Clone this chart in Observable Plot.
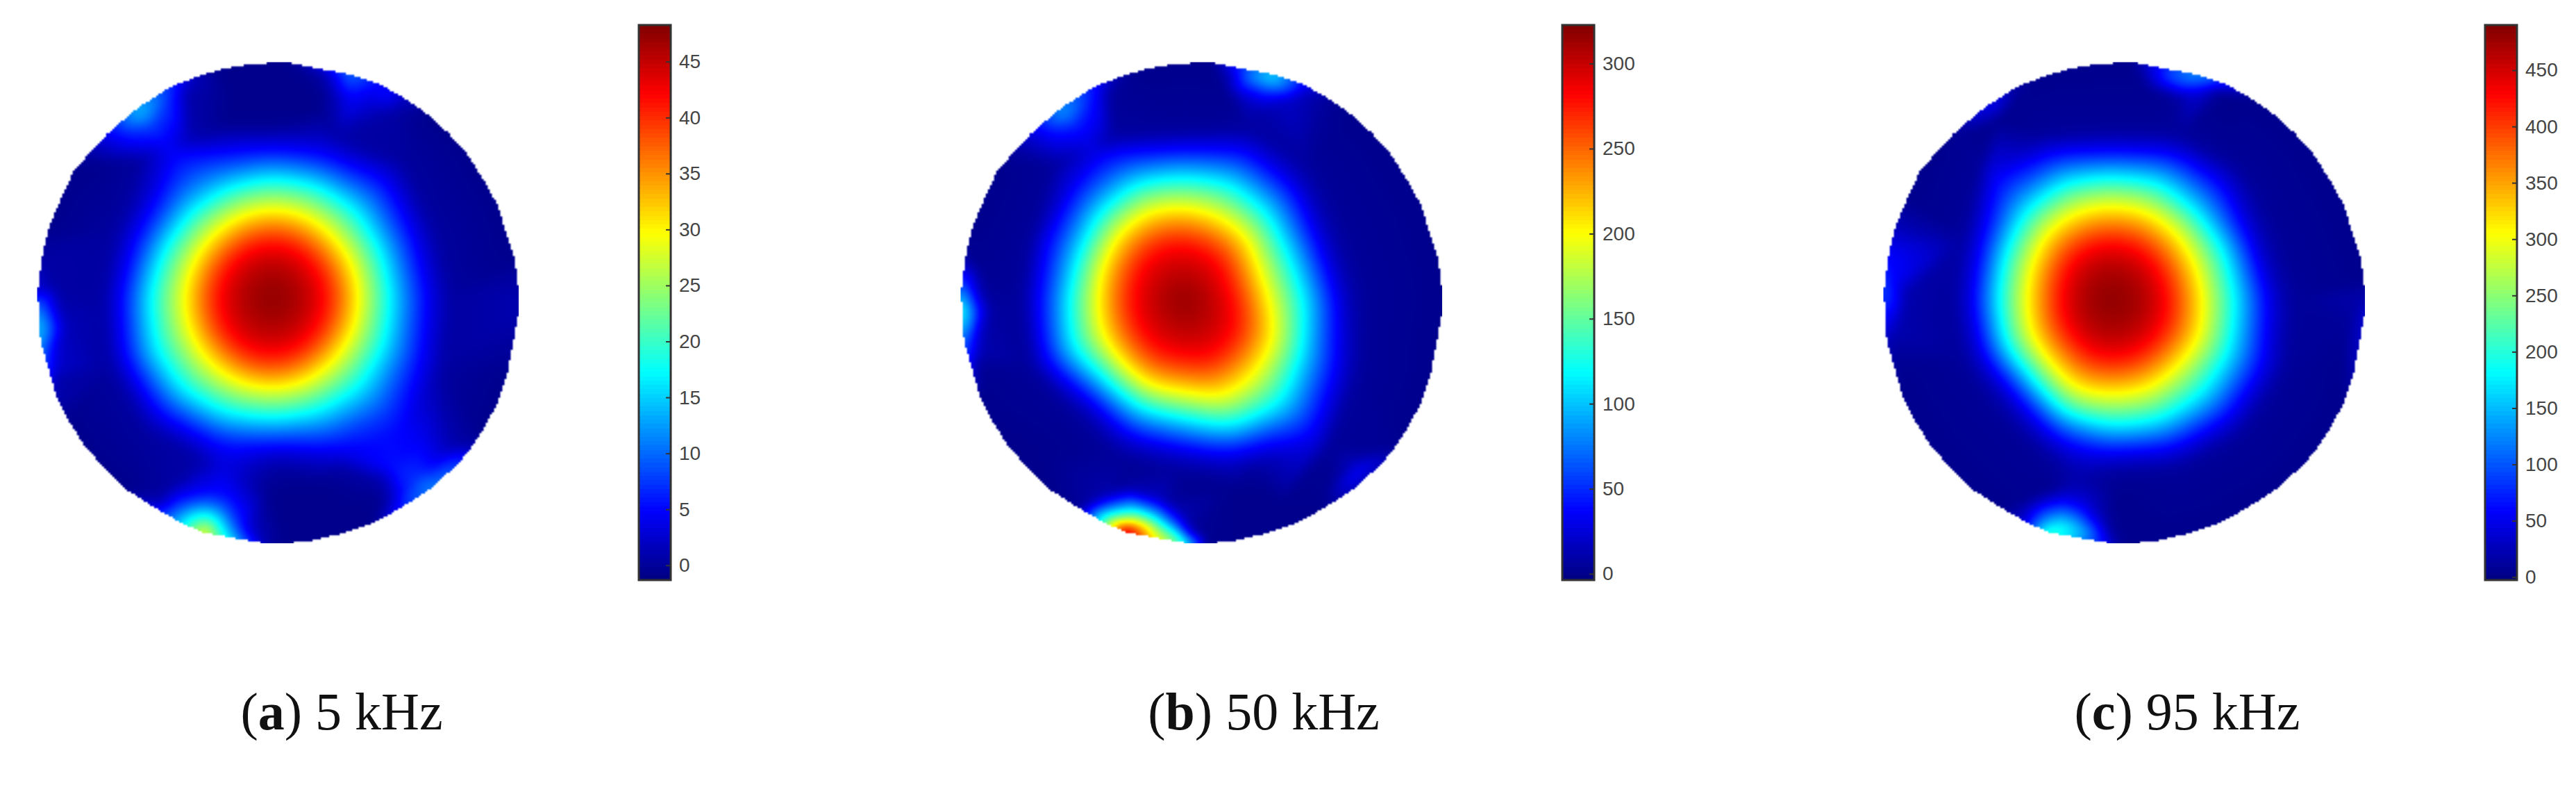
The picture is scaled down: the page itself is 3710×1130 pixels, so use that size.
<!DOCTYPE html>
<html><head><meta charset="utf-8">
<script src="https://cdn.jsdelivr.net/npm/d3@7"></script>
<script src="https://cdn.jsdelivr.net/npm/@observablehq/plot@0.6"></script>
<style>
html,body{margin:0;background:#fff}
#chart{position:relative;width:3710px;height:1130px;overflow:hidden;background:#fff}
.p{position:absolute}
.cap{position:absolute;top:986px;font:76px/1 "Liberation Serif",serif;color:#111;transform:translateX(-50%);white-space:nowrap}
</style></head><body><div id="chart"></div>
<script>
// plane units are offsets from the disk centre
const rimX=[-10,20,150,208,260,307,350,388,420,452,470,486,492,495,495,470,449,420,398,375,318,250,194,130,70,10,-25,-155,-204,-250,-309,-360,-397,-430,-455,-470,-488,-492,-494,-485,-470,-446,-420,-385,-350,-288,-220,-170,-120,-65];
const rimY=[-480,-480,-456,-437,-409,-377,-339,-298,-249,-194,-134,-90,-44,-14,16,146,203,256,287,316,368,411,441,461,475,481,481,459,437,411,375,326,287,236,190,136,78,16,-24,-92,-154,-208,-264,-302,-339,-390,-432,-451,-466,-476];
const jetStops=[0,.125,.375,.625,.875,1];
const jetColors=["#00007f","#0000ff","#00ffff","#ffff00","#ff0000","#7f0000"];

// --- (a) 5 kHz
const captionA=["a"," 5 kHz"];
const ticksA=[0,5,10,15,20,25,30,35,40,45];
const rangeA=[-1.29,48.3];
const n0=-.6;
const rimValuesA=[n0,n0,10,5,2,n0,n0,n0,n0,n0,n0,n0,.5,1,1,n0,n0,n0,1,7,11,6,n0,n0,n0,n0,.5,29,14,5,n0,n0,n0,n0,1,5,13,11,3,.5,n0,n0,n0,1,5,13,7,1.5,n0,n0];
const peakA=[-12,-12,48.3];
const levelsA=[46,42,36,30,24,17.5,11,5,.3];
const ringsA=[
[66,68,70,68,66,64,64,64],
[118,118,120,123,125,125,124,122,120,117,115,114,114,114,114,116],
[150,150,150,154,156,156,154,152,150,146,144,144,146,146,144,146],
[178,178,178,182,184,184,182,182,180,176,174,174,176,176,174,176],
[210,212,214,214,212,216,220,218,216,208,206,206,206,208,206,208],
[242,248,252,246,243,250,259,258,253,243,238,236,237,240,243,240],
[276,285,300,285,270,283,295,300,284,270,272,265,265,270,280,272],
[317,330,365,325,293,310,325,320,303,300,306,310,292,300,330,312],
[350,372,null,358,322,345,368,355,338,340,380,345,320,335,375,345]];
const extrasA=[
[-285,-381,14.5],[-304,-367,12],[-257,-401,12],[-266,-379,12],[-238,-388,8],[-257,-351,7.5],[-295,-341,7],[-224,-401,6.5],[-204,-411,4.5],[-190,-411,1],[-204,-360,4.5],[-185,-365,1],[-338,-346,6],[-347,-323,3],[-328,-314,3.5],[-233,-323,5],[-210,-295,5],[-185,-318,1.5],
[-380,-280,n0],[-100,-400,n0],[0,-400,n0],[80,-380,n0],[-100,-350,n0],[0,-350,n0],
[90,-467,1],[230,-424,6],[150,-414,5],[120,-404,1.5],[190,-399,3],[230,-374,.5],[90,-404,n0],
[-487,52,17],[-490,29,14],[-485,75,13],[-471,47,9.5],[-452,47,5],[-433,47,1.5],[-485,-8,8],[-466,1,4],[-452,-27,.5],[-466,93,5],[-475,103,7],[-452,126,2.5],[-461,168,.5],
[310,366,11],[270,396,9],[350,331,9],[280,346,7],[260,376,6],[230,396,1.5],[330,316,4],[230,326,5.5],[220,356,1.5],[360,286,1],[290,276,4.5],
[70,356,n0],[-10,396,n0],[130,396,n0],[180,346,.5],[-30,316,.8],[210,406,n0],
[-148,455,30],[-162,450,25],[-171,443,21],[-143,445,24],[-124,454,20],[-110,461,17],[-195,436,16],[-176,429,18],[-147,426,18.5],[-119,436,16],[-95,454,12],[-67,470,7],[-28,480,2],[-219,426,10],[-238,415,5.5],[-210,404,7],[-176,404,10],[-143,401,10],[-114,412,10],[-90,431,7.5],[-67,450,4.5],[-43,464,1.5],[-67,417,4.5],[-47,426,1.5],[-176,380,4.5],[-133,376,5],[-95,390,5],[-228,390,2],[-252,399,1],[-210,357,.5],[-114,339,4],[-57,357,1],[-19,380,n0]];

// --- (b) 50 kHz
const captionB=["b"," 50 kHz"];
const ticksB=[0,50,100,150,200,250,300];
const rangeB=[-3.47,322.9];
const n1=1;
const rimValuesB=[n1,n1,100,40,5,n1,n1,n1,n1,n1,n1,n1,n1,n1,1,n1,n1,n1,3,15,15,1,n1,n1,n1,1,110,300,130,3,n1,n1,n1,n1,1,15,70,120,75,5,1,n1,n1,6,30,80,42,9,n1,n1];
const peakB=[-39,-4,323];
const levelsB=[300,282,240,200,160,119,75,37,5];
const ringsB=[
[72,86,76,66,66,68,74,68],
[112,128,131,133,115,118,113,112,111,113,119,121,119,116,117,105],
[146,168,170,173,151,154,148,147,145,148,156,159,156,152,153,138],
[180,208,210,214,186,190,183,181,178,182,193,196,192,187,189,170],
[215,236,249,243,209,209,200,213,206,206,218,225,218,220,217,202],
[250,264,288,271,232,228,218,245,235,231,243,253,245,254,245,235],
[285,300,330,300,262,262,255,280,265,262,280,285,280,288,285,270],
[312,342,380,316,290,289,265,302,293,302,310,323,300,328,320,297],
[345,375,420,345,320,318,295,335,322,332,380,355,325,365,355,330]];
const extrasB=[
[-285,-381,87],[-304,-367,72],[-257,-401,72],[-266,-379,72],[-238,-388,48],[-257,-351,45],[-295,-341,42],[-224,-401,39],[-204,-411,27],[-190,-411,6],[-204,-360,27],[-185,-365,6],[-338,-346,36],[-347,-323,18],[-328,-314,21],[-233,-323,30],[-210,-295,30],[-185,-318,9],
[118,-454,100],[148,-449,110],[88,-444,60],[188,-434,60],[68,-459,25],[128,-414,40],[88,-409,20],[178,-404,20],[48,-424,2],[218,-424,20],[128,-379,10],
[-487,16,125],[-490,-14,95],[-485,46,100],[-471,16,70],[-452,16,35],[-433,16,8],[-485,-40,50],[-466,-30,25],[-452,-60,3],[-466,62,35],[-475,72,50],[-452,95,12],[-461,137,3],
[318,346,40],[293,366,30],[338,326,35],[278,356,10],[258,386,2],[308,321,15],[268,326,3],
[-150,457,323],[-162,450,290],[-171,447,250],[-135,459,280],[-114,461,240],[-100,466,190],[-71,470,180],[-38,477,150],[-14,480,100],[-143,443,225],[-114,450,215],[-190,443,200],[-166,436,190],[-133,433,180],[-86,454,165],[-52,468,140],[-200,433,140],[-219,422,90],[-233,415,40],[-181,422,125],[-147,415,118],[-105,426,119],[-67,450,115],[-28,470,80],[-209,404,45],[-171,399,60],[-128,399,60],[-90,412,62],[-52,440,55],[-19,468,25],[-233,399,8],[-195,380,10],[-143,374,15],[-90,387,15],[-43,417,12],[-5,459,3],[-147,348,n1],[-53,371,n1],
[70,370,n1],[160,400,n1],[-330,300,n1]];

// --- (c) 95 kHz
const captionC=["c"," 95 kHz"];
const ticksC=[0,50,100,150,200,250,300,350,400,450];
const rangeC=[-2.36,490.4];
const n2=4.5;
const rimValuesC=[n2,8,130,70,n2,n2,n2,n2,n2,n2,n2,n2,5,20,40,20,n2,n2,n2,n2,n2,n2,n2,n2,n2,5,30,215,40,5,n2,n2,n2,n2,n2,5,25,70,90,60,25,n2,n2,n2,8,50,15,n2,n2,n2];
const peakC=[-25,-6,490];
const levelsC=[470,429,370,306,245,182,120,59,10];
const ringsC=[
[70,70,70,66,66,68,68,68],
[120,125,122,124,122,124,115,116,112,115,122,122,120,122,120,118],
[152,158,154,157,154,158,146,147,142,146,154,154,152,154,152,150],
[190,198,192,196,192,197,182,184,177,182,193,193,190,193,190,187],
[220,228,222,227,222,226,208,212,208,212,224,226,222,224,222,217],
[255,262,263,260,252,247,224,235,235,237,250,252,243,252,243,251],
[285,295,300,290,280,272,252,268,265,270,285,288,278,288,278,280],
[315,334,331,318,297,293,267,276,275,281,342,314,288,314,325,299],
[352,370,368,352,330,325,300,310,312,318,385,355,325,350,360,335]];
const extrasC=[[-270,-399,60],[-300,-374,40],[-250,-409,50],[-260,-364,5],[-230,-404,6],[-310,-344,6],
[60,-469,50],[100,-462,110],[130,-439,100],[80,-439,60],[175,-439,90],[150,-419,40],[190,-429,25],[40,-434,6],[210,-419,3],[110,-409,12],
[-475,-44,60],[-470,-4,65],[-450,-14,20],[-465,56,20],
[460,46,10],[475,116,30],[450,116,5],
[-162,450,170],[-171,443,130],[-130,448,190],[-100,458,170],[-80,465,150],[-195,436,70],[-160,425,110],[-125,425,130],[-95,433,115],[-70,450,100],[-45,468,60],[-10,480,8],[-219,426,25],[-238,415,8],[-195,404,25],[-160,400,50],[-125,398,60],[-90,410,60],[-60,430,45],[-30,452,15],[-45,417,20],[-25,430,6],[-160,375,6],[-115,372,25],[-75,385,30],[-100,345,15],[-40,355,6],[-20,380,5]];

const panels=[
 {caption:captionA,ticks:ticksA,range:rangeA,rim:rimValuesA,peak:peakA,levels:levelsA,rings:ringsA,extras:extrasA,diskLeft:53,barLeft:918,capX:492},
 {caption:captionB,ticks:ticksB,range:rangeB,rim:rimValuesB,peak:peakB,levels:levelsB,rings:ringsB,extras:extrasB,diskLeft:1383,barLeft:2248,capX:1820},
 {caption:captionC,ticks:ticksC,range:rangeC,rim:rimValuesC,peak:peakC,levels:levelsC,rings:ringsC,extras:extrasC,diskLeft:2712,barLeft:3577,capX:3150}
];

function samples(p){
  const out=rimX.map((x,i)=>({x,y:rimY[i],v:p.rim[i]}));
  out.push({x:p.peak[0],y:p.peak[1],v:p.peak[2]});
  p.rings.forEach((radii,k)=>radii.forEach((r,i)=>{
    if(r==null)return;
    const a=i/radii.length*2*Math.PI;
    out.push({x:p.peak[0]+r*Math.cos(a),y:p.peak[1]+r*Math.sin(a),v:p.levels[k]});
  }));
  p.extras.forEach(([x,y,v])=>out.push({x,y,v}));
  return out;
}
// barycentric fill, softened strongly in the middle and lightly towards the rim,
// then emptied outside the rim polygon (the rim samples come first)
const rimInterpolate=(index,w,h,X,Y,V)=>{
  const W=Plot.interpolatorBarycentric()(index,w,h,X,Y,V);
  const edge=Float64Array.from(W), soft=Float64Array.from(W);
  d3.blur2({data:edge,width:w,height:h},2);
  d3.blur2({data:soft,width:w,height:h},6);
  const poly=rimX.map((_,i)=>[X[i],Y[i]]);
  for(let j=0;j<h;j++)for(let i=0;i<w;i++){
    const k=i+j*w;
    if(!d3.polygonContains(poly,[i+.5,j+.5])){W[k]=NaN;continue;}
    const r=Math.hypot((i+.5)/w*2-1,(j+.5)/h*2-1);
    const t=Math.min(1,Math.max(0,(r-.68)/.14));
    W[k]=soft[k]+(edge[k]-soft[k])*t;
  }
  return W;
};
const root=document.getElementById("chart");
function place(el,left,top){el.classList.add("p");el.style.left=left+"px";el.style.top=top+"px";root.append(el);}

for(const p of panels){
  const [lo,hi]=p.range;
  const color={type:"linear",domain:jetStops.map(t=>lo+t*(hi-lo)),range:jetColors};
  place(Plot.plot({width:694,height:693,margin:0,
    x:{domain:[-495,495],axis:null},y:{domain:[481,-481],axis:null},color,
    marks:[Plot.raster(samples(p),{x:"x",y:"y",fill:"v",interpolate:rimInterpolate,pixelSize:3,imageRendering:"auto"})]
  }),p.diskLeft,89.4);
  place(Plot.plot({width:139,height:830,marginTop:11.5,marginBottom:19.5,marginLeft:1.5,marginRight:91.5,
    style:{fontFamily:"'Liberation Sans',Arial,sans-serif",background:"transparent"},
    x:{domain:[0,1],axis:null},y:{domain:[lo,hi],axis:null},color,
    marks:[
      Plot.raster({x1:0,x2:1,y1:lo,y2:hi,width:1,height:128,fill:(x,y)=>y,imageRendering:"pixelated"}),
      Plot.ruleY(p.ticks,{x1:.86,x2:1,stroke:"#333",strokeWidth:2}),
      Plot.frame({stroke:"#333",strokeWidth:3}),
      Plot.axisY(p.ticks,{anchor:"right",tickSize:0,tickPadding:12,fontSize:28,fill:"#444",label:null})
    ]}),p.barLeft,24);
  const cap=document.createElement("div");cap.className="cap";cap.style.left=p.capX+"px";
  cap.innerHTML="(<b>"+p.caption[0]+"</b>)"+p.caption[1];
  root.append(cap);
}
</script></body></html>
